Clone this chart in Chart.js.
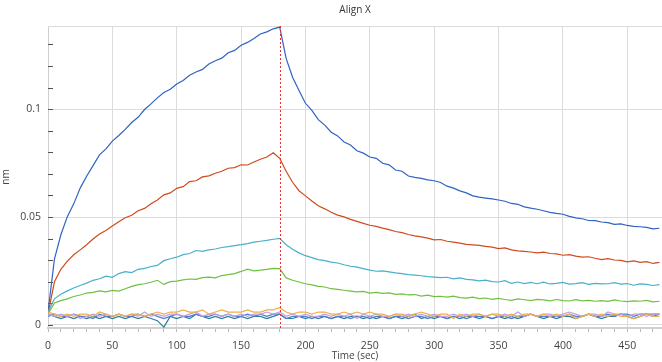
<!DOCTYPE html>
<html>
<head>
<meta charset="utf-8">
<script src="https://cdn.jsdelivr.net/npm/chart.js@4"></script>
<style>
  html, body { margin: 0; padding: 0; background: #fff; }
  #wrap { width: 662px; height: 362px; }
</style>
</head>
<body>
<div id="wrap"><canvas id="alignX"></canvas></div>
<script>
// time points (sec)
const times = [
  0, 5, 10, 15, 20, 25, 30, 35, 40, 45, 50, 55, 60, 65, 70, 75, 80, 85, 90, 95,
  100, 105, 110, 115, 120, 125, 130, 135, 140, 145, 150, 155, 160, 165, 170, 175, 180, 185, 190, 195,
  200, 205, 210, 215, 220, 225, 230, 235, 240, 245, 250, 255, 260, 265, 270, 275, 280, 285, 290, 295,
  300, 305, 310, 315, 320, 325, 330, 335, 340, 345, 350, 355, 360, 365, 370, 375, 380, 385, 390, 395,
  400, 405, 410, 415, 420, 425, 430, 435, 440, 445, 450, 455, 460, 465, 470, 475
];
const injectEnd = 180;

// responses (nm)
const blueTrace = [
  0.0060, 0.0305, 0.0418, 0.0502, 0.0561, 0.0634, 0.0689, 0.0738, 0.0788, 0.0816,
  0.0852, 0.0878, 0.0906, 0.0938, 0.0962, 0.0998, 0.1024, 0.1052, 0.1077, 0.1092,
  0.1116, 0.1133, 0.1157, 0.1172, 0.1184, 0.1209, 0.1224, 0.1236, 0.1261, 0.1272,
  0.1296, 0.1309, 0.1327, 0.1348, 0.1358, 0.1372, 0.1380,
  0.1235, 0.1148, 0.1086, 0.1027, 0.0994, 0.0951, 0.0926, 0.0893, 0.0876, 0.0848,
  0.0834, 0.0807, 0.0796, 0.0778, 0.0772, 0.0749, 0.0742, 0.0718, 0.0712, 0.0690,
  0.0684, 0.0679, 0.0672, 0.0668, 0.0660, 0.0643, 0.0634, 0.0621, 0.0612, 0.0598,
  0.0592, 0.0588, 0.0584, 0.0579, 0.0573, 0.0563, 0.0559, 0.0547, 0.0541, 0.0536,
  0.0529, 0.0522, 0.0517, 0.0513, 0.0503, 0.0496, 0.0492, 0.0484, 0.0483, 0.0477,
  0.0474, 0.0466, 0.0468, 0.0461, 0.0457, 0.0455, 0.0452, 0.0445, 0.0448
];
const redTrace = [
  0.0050, 0.0200, 0.0258, 0.0296, 0.0325, 0.0348, 0.0372, 0.0398, 0.0421, 0.0438,
  0.0459, 0.0478, 0.0497, 0.0508, 0.0529, 0.0540, 0.0562, 0.0579, 0.0603, 0.0612,
  0.0633, 0.0641, 0.0664, 0.0668, 0.0686, 0.0691, 0.0703, 0.0712, 0.0726, 0.0729,
  0.0742, 0.0741, 0.0755, 0.0768, 0.0778, 0.0798, 0.0772,
  0.0712, 0.0661, 0.0622, 0.0598, 0.0574, 0.0552, 0.0538, 0.0522, 0.0509, 0.0501,
  0.0489, 0.0480, 0.0471, 0.0462, 0.0457, 0.0449, 0.0442, 0.0433, 0.0428, 0.0419,
  0.0413, 0.0408, 0.0402, 0.0394, 0.0396, 0.0388, 0.0384, 0.0379, 0.0373, 0.0371,
  0.0369, 0.0364, 0.0361, 0.0354, 0.0357, 0.0348, 0.0343, 0.0341, 0.0338, 0.0334,
  0.0337, 0.0331, 0.0329, 0.0323, 0.0326, 0.0319, 0.0314, 0.0316, 0.0309, 0.0303,
  0.0307, 0.0301, 0.0299, 0.0292, 0.0297, 0.0290, 0.0293, 0.0285, 0.0290
];
const cyanTrace = [
  0.0060, 0.0121, 0.0142, 0.0158, 0.0171, 0.0183, 0.0194, 0.0207, 0.0214, 0.0226,
  0.0221, 0.0238, 0.0247, 0.0243, 0.0258, 0.0262, 0.0271, 0.0276, 0.0298, 0.0307,
  0.0314, 0.0326, 0.0331, 0.0345, 0.0341, 0.0348, 0.0352, 0.0359, 0.0363, 0.0368,
  0.0372, 0.0377, 0.0384, 0.0388, 0.0392, 0.0397, 0.0401,
  0.0372, 0.0351, 0.0334, 0.0321, 0.0312, 0.0303, 0.0298, 0.0291, 0.0287, 0.0279,
  0.0272, 0.0268, 0.0261, 0.0254, 0.0249, 0.0251, 0.0246, 0.0241, 0.0238, 0.0233,
  0.0231, 0.0228, 0.0224, 0.0222, 0.0219, 0.0221, 0.0214, 0.0218, 0.0211, 0.0209,
  0.0204, 0.0208, 0.0201, 0.0199, 0.0205, 0.0193, 0.0199, 0.0192, 0.0197, 0.0191,
  0.0198, 0.0190, 0.0193, 0.0197, 0.0189, 0.0192, 0.0196, 0.0188, 0.0193, 0.0190,
  0.0191, 0.0196, 0.0189, 0.0192, 0.0184, 0.0190, 0.0188, 0.0183, 0.0187
];
const greenTrace = [
  0.0050, 0.0102, 0.0113, 0.0121, 0.0132, 0.0139, 0.0148, 0.0151, 0.0158, 0.0153,
  0.0160, 0.0157, 0.0168, 0.0179, 0.0187, 0.0191, 0.0198, 0.0207, 0.0188, 0.0201,
  0.0203, 0.0209, 0.0213, 0.0211, 0.0219, 0.0222, 0.0218, 0.0229, 0.0233, 0.0238,
  0.0248, 0.0259, 0.0251, 0.0254, 0.0258, 0.0262, 0.0261,
  0.0218, 0.0207, 0.0199, 0.0191, 0.0186, 0.0179, 0.0176, 0.0168, 0.0165, 0.0161,
  0.0157, 0.0153, 0.0156, 0.0148, 0.0151, 0.0146, 0.0149, 0.0142, 0.0144, 0.0139,
  0.0141, 0.0134, 0.0138, 0.0131, 0.0133, 0.0129, 0.0134, 0.0127, 0.0124, 0.0129,
  0.0122, 0.0125, 0.0119, 0.0123, 0.0118, 0.0114, 0.0121, 0.0117, 0.0113, 0.0119,
  0.0116, 0.0112, 0.0118, 0.0113, 0.0111, 0.0117, 0.0112, 0.0114, 0.0110, 0.0113,
  0.0109, 0.0116, 0.0111, 0.0108, 0.0112, 0.0110, 0.0114, 0.0107, 0.0110
];
const orangeTrace = [
  0.006, 0.005, 0.004, 0.005, 0.004, 0.005, 0.005, 0.004, 0.006, 0.005,
  0.004, 0.005, 0.004, 0.005, 0.005, 0.004, 0.005, 0.006, 0.005, 0.006,
  0.006, 0.007, 0.006, 0.006, 0.007, 0.005, 0.006, 0.007, 0.006, 0.006,
  0.006, 0.007, 0.006, 0.006, 0.007, 0.007, 0.008, 0.006, 0.005, 0.006,
  0.006, 0.005, 0.006, 0.006, 0.005, 0.005, 0.006, 0.005, 0.006, 0.005,
  0.006, 0.005, 0.005, 0.004, 0.005, 0.005, 0.004, 0.005, 0.006, 0.005,
  0.004, 0.005, 0.005, 0.003, 0.005, 0.004, 0.005, 0.005, 0.004, 0.005,
  0.005, 0.004, 0.005, 0.004, 0.005, 0.005, 0.004, 0.005, 0.004, 0.005,
  0.004, 0.005, 0.003, 0.004, 0.005, 0.004, 0.005, 0.004, 0.005, 0.004,
  0.004, 0.003, 0.004, 0.005, 0.004, 0.004
];
const lavenderTrace = [
  0.005, 0.004, 0.005, 0.004, 0.005, 0.003, 0.004, 0.005, 0.004, 0.005,
  0.004, 0.005, 0.004, 0.005, 0.004, 0.006, 0.004, 0.005, 0.004, 0.005,
  0.005, 0.004, 0.005, 0.006, 0.004, 0.005, 0.005, 0.004, 0.005, 0.004,
  0.005, 0.004, 0.005, 0.005, 0.006, 0.005, 0.006, 0.004, 0.005, 0.004,
  0.005, 0.004, 0.004, 0.005, 0.004, 0.005, 0.004, 0.005, 0.003, 0.005,
  0.004, 0.005, 0.004, 0.004, 0.005, 0.004, 0.005, 0.004, 0.005, 0.004,
  0.005, 0.004, 0.004, 0.005, 0.004, 0.005, 0.004, 0.005, 0.004, 0.005,
  0.004, 0.005, 0.004, 0.006, 0.004, 0.005, 0.004, 0.005, 0.005, 0.004,
  0.005, 0.006, 0.005, 0.004, 0.005, 0.005, 0.004, 0.006, 0.005, 0.005,
  0.004, 0.005, 0.005, 0.004, 0.005, 0.005
];
const tealTrace = [
  0.005, 0.004, 0.003, 0.004, 0.003, 0.004, 0.003, 0.004, 0.003, 0.004,
  0.003, 0.004, 0.003, 0.004, 0.003, 0.004, 0.003, 0.002, -0.001, 0.004,
  0.003, 0.004, 0.003, 0.005, 0.004, 0.003, 0.004, 0.003, 0.004, 0.003,
  0.004, 0.003, 0.004, 0.004, 0.003, 0.004, 0.005, 0.003, 0.003, 0.004,
  0.003, 0.004, 0.003, 0.004, 0.003, 0.004, 0.003, 0.004, 0.004, 0.003,
  0.004, 0.003, 0.004, 0.003, 0.004, 0.003, 0.004, 0.005, 0.003, 0.004,
  0.003, 0.004, 0.003, 0.004, 0.003, 0.004, 0.004, 0.003, 0.004, 0.003,
  0.004, 0.003, 0.004, 0.003, 0.004, 0.005, 0.004, 0.003, 0.004, 0.003,
  0.004, 0.004, 0.003, 0.004, 0.005, 0.004, 0.003, 0.004, 0.004, 0.005,
  0.004, 0.003, 0.004, 0.005, 0.004, 0.005
];
const paleBlueTrace = [
  0.004, 0.005, 0.004, 0.004, 0.005, 0.004, 0.004, 0.003, 0.005, 0.004,
  0.004, 0.005, 0.004, 0.004, 0.005, 0.004, 0.005, 0.004, 0.003, 0.004,
  0.005, 0.004, 0.004, 0.005, 0.004, 0.004, 0.005, 0.004, 0.005, 0.004,
  0.004, 0.005, 0.004, 0.005, 0.004, 0.005, 0.005, 0.003, 0.004, 0.004,
  0.004, 0.003, 0.004, 0.004, 0.003, 0.004, 0.004, 0.003, 0.004, 0.004,
  0.003, 0.004, 0.004, 0.003, 0.004, 0.004, 0.003, 0.004, 0.004, 0.003,
  0.004, 0.004, 0.003, 0.004, 0.004, 0.003, 0.004, 0.004, 0.004, 0.003,
  0.004, 0.004, 0.003, 0.004, 0.004, 0.005, 0.004, 0.004, 0.004, 0.004,
  0.004, 0.005, 0.004, 0.004, 0.005, 0.004, 0.004, 0.005, 0.004, 0.005,
  0.005, 0.004, 0.005, 0.005, 0.005, 0.005
];

const traces = [
  { values: orangeTrace, color: '#eeb04a' },
  { values: lavenderTrace, color: '#c49ee6' },
  { values: paleBlueTrace, color: '#4f7fcc' },
  { values: tealTrace, color: '#2b7f9c' },
  { values: greenTrace, color: '#70c041' },
  { values: cyanTrace, color: '#46b1c9' },
  { values: redTrace, color: '#cf4b1e' },
  { values: blueTrace, color: '#3063c0' }
];

const gridGray = '#dcdcdc';
const textGray = '#444';

function isMajor(v, step) {
  return Math.abs(v / step - Math.round(v / step)) < 1e-6;
}

// frame line, inward y ticks and the end-of-injection marker
const overlay = {
  id: 'overlay',
  beforeDatasetsDraw(chart) {
    const { ctx, chartArea, scales } = chart;
    ctx.save();
    ctx.strokeStyle = gridGray;
    ctx.lineWidth = 1;
    ctx.beginPath();
    ctx.moveTo(chartArea.left, chartArea.top + 0.5);
    ctx.lineTo(chartArea.right, chartArea.top + 0.5);
    ctx.stroke();
    ctx.strokeStyle = '#555';
    scales.y.ticks.forEach(t => {
      const y = Math.round(scales.y.getPixelForValue(t.value)) + 0.5;
      ctx.beginPath();
      ctx.moveTo(chartArea.left, y);
      ctx.lineTo(chartArea.left + 5, y);
      ctx.stroke();
    });
    ctx.restore();
  },
  afterDatasetsDraw(chart) {
    const { ctx, chartArea, scales } = chart;
    const x = Math.round(scales.x.getPixelForValue(injectEnd)) + 0.5;
    ctx.save();
    ctx.strokeStyle = '#e8322d';
    ctx.lineWidth = 1;
    ctx.setLineDash([2, 2]);
    ctx.beginPath();
    ctx.moveTo(x, chartArea.top);
    ctx.lineTo(x, chartArea.bottom);
    ctx.stroke();
    ctx.restore();
  }
};

const ctx = document.getElementById('alignX').getContext('2d');
new Chart(ctx, {
  type: 'line',
  data: {
    datasets: traces.map(tr => ({
      data: tr.values.map((v, i) => ({ x: times[i], y: v })),
      borderColor: tr.color,
      borderWidth: 1.2,
      pointRadius: 0,
      tension: 0,
      fill: false
    }))
  },
  options: {
    responsive: true,
    maintainAspectRatio: false,
    animation: false,
    layout: { padding: { left: 0, right: 0, top: 0, bottom: 0 } },
    plugins: {
      legend: { display: false },
      tooltip: { enabled: false },
      title: {
        display: true,
        text: 'Align X',
        fullSize: false,
        color: '#333',
        font: { family: 'Open Sans', size: 10, weight: 'normal' },
        padding: { top: 4, bottom: 10 }
      }
    },
    scales: {
      x: {
        type: 'linear',
        min: 0,
        max: 477,
        afterFit: s => { s.height = 34; },
        border: { display: true, color: '#cfcfcf', width: 2 },
        grid: {
          color: c => isMajor(c.tick.value, 50) ? gridGray : 'rgba(0,0,0,0)',
          drawTicks: true,
          tickLength: 4,
          tickColor: '#bbb'
        },
        ticks: {
          stepSize: 10,
          autoSkip: false,
          maxRotation: 0,
          includeBounds: false,
          padding: 8,
          color: textGray,
          font: { family: 'Open Sans', size: 10.5 },
          callback: v => isMajor(v, 50) ? String(Math.round(v)) : ''
        },
        title: {
          display: true,
          text: 'Time (sec)',
          color: textGray,
          font: { family: 'Open Sans', size: 10 },
          padding: { top: 0, bottom: 0 }
        }
      },
      y: {
        min: -0.0014,
        max: 0.1385,
        afterFit: s => { s.width = 48; },
        border: { display: true, color: '#cfcfcf' },
        grid: {
          color: c => isMajor(c.tick.value, 0.05) ? gridGray : 'rgba(0,0,0,0)',
          drawTicks: false
        },
        ticks: {
          stepSize: 0.01,
          autoSkip: false,
          includeBounds: false,
          padding: 7,
          color: textGray,
          font: { family: 'Open Sans', size: 10.5 },
          callback: v => {
            if (!isMajor(v, 0.05)) return '';
            const r = Math.round(v * 100) / 100;
            return r === 0 ? '0' : String(r);
          }
        },
        title: {
          display: true,
          text: 'nm',
          color: textGray,
          font: { family: 'Open Sans', size: 10 },
          padding: { top: 0, bottom: 0 }
        }
      }
    }
  },
  plugins: [overlay]
});
</script>
</body>
</html>
